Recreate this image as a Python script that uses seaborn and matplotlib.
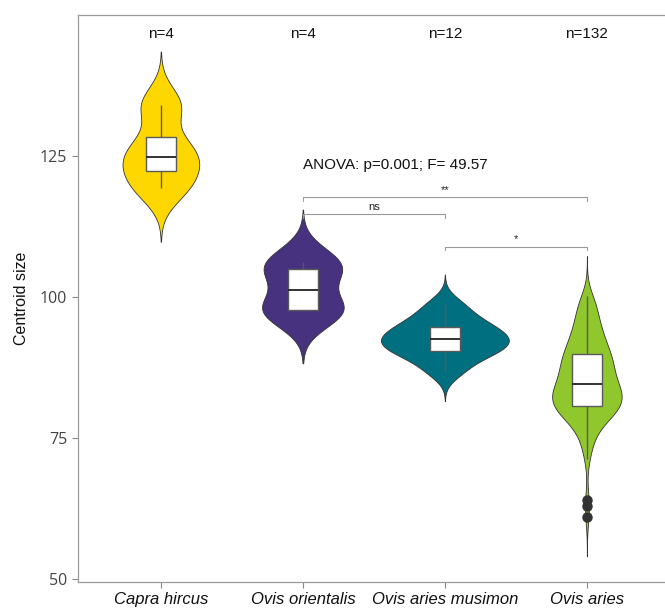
import numpy as np
import pandas as pd
import matplotlib
matplotlib.use("Agg")
import matplotlib.pyplot as plt
import seaborn as sns

species = ["Capra hircus", "Ovis orientalis", "Ovis aries musimon", "Ovis aries"]
colors = ["#FFD700", "#46327E", "#007080", "#8FC72C"]

capra_hircus = [119.2, 123.2, 126.5, 134.0]
ovis_orientalis = [97.5, 97.8, 104.6, 106.2]
ovis_musimon = [86.7, 88.8, 90.2, 90.6, 91.6, 92.2, 92.8, 93.6, 94.5, 95.3, 96.8, 98.8]
ovis_aries = [
    61.1, 62.9, 64.0, 71.3,
    72.4, 73.5, 74.3, 75.0, 75.6, 76.1, 76.6, 77.0, 77.4, 77.7,
    78.0, 78.3, 78.5, 78.7, 78.9, 79.1, 79.3, 79.4, 79.6, 79.7,
    79.8, 79.9, 80.0, 80.1, 80.2, 80.3, 80.4, 80.5, 80.6,
    80.7, 80.8, 80.9, 81.0, 81.2, 81.3, 81.4, 81.5, 81.7, 81.8,
    81.9, 82.0, 82.2, 82.3, 82.4, 82.5, 82.7, 82.8, 82.9, 83.0,
    83.1, 83.2, 83.3, 83.4, 83.5, 83.6, 83.7, 83.8, 83.9, 84.0,
    84.2, 84.3, 84.5,
    84.7, 84.9, 85.0, 85.2, 85.4, 85.5, 85.7, 85.9, 86.0, 86.2,
    86.4, 86.6, 86.8, 87.0, 87.2, 87.3, 87.5, 87.6, 87.8, 88.0,
    88.1, 88.3, 88.4, 88.6, 88.7, 88.9, 89.0, 89.2, 89.3, 89.5,
    89.6, 89.8, 89.9,
    90.0, 90.3, 90.6, 90.9, 91.0, 91.2, 91.5, 91.8, 92.0, 92.1,
    92.4, 92.7, 93.0, 93.3, 93.5, 93.6, 93.9, 94.2, 94.5, 94.9,
    95.3, 95.7, 96.1, 96.5, 96.9, 97.3, 97.7, 98.1, 98.5, 98.9,
    99.3, 99.6, 100.2,
]

# significance brackets: (group a, group b, label, height)
sig_pairs = [(1, 3), (1, 2), (2, 3)]
sig_labels = ["**", "ns", "*"]
sig_heights = [117.6, 114.6, 108.9]
anova_text = "ANOVA: p=0.001; F= 49.57"

groups = [capra_hircus, ovis_orientalis, ovis_musimon, ovis_aries]
df = pd.DataFrame({
    "species": np.repeat(species, [len(g) for g in groups]),
    "size": np.concatenate(groups),
})


def nrd0_factor(kde):
    # R's default bandwidth (bw.nrd0), returned as a factor for gaussian_kde
    x = kde.dataset[0]
    sd = x.std(ddof=1)
    q75, q25 = np.percentile(x, [75, 25])
    h = 0.9 * min(sd, (q75 - q25) / 1.34) * len(x) ** -0.2
    return h / sd


sns.set_theme(style="ticks")
plt.rcParams["font.family"] = ["Liberation Sans", "DejaVu Sans"]

fig = plt.figure(figsize=(6.65, 6.09), dpi=100)
ax = fig.add_axes([0.117, 0.045, 0.883, 0.93])

sns.violinplot(data=df, x="species", y="size", hue="species", order=species,
               hue_order=species, palette=colors, cut=3, bw_method=nrd0_factor,
               density_norm="area", common_norm=True, width=0.9, inner=None,
               linewidth=0.6, linecolor="#333333", saturation=1, legend=False, ax=ax)

sns.boxplot(data=df, x="species", y="size", order=species, width=0.21,
            color="white", linewidth=1.0, linecolor="#5a5a5a", showcaps=False,
            saturation=1,
            flierprops=dict(marker="o", markerfacecolor="#333333",
                            markeredgecolor="#333333", markersize=6.5),
            medianprops=dict(color="#222222", linewidth=1.3), ax=ax)

for i, g in enumerate(groups):
    ax.text(i, 146.6, f"n={len(g)}", ha="center", va="center", fontsize=11, color="#111111")

ax.text(1.0, 123.3, anova_text, ha="left", va="center", fontsize=11, color="#111111")

for (a, b), lab, h in zip(sig_pairs, sig_labels, sig_heights):
    ax.plot([a, a, b, b], [h - 0.6, h, h, h - 0.6], color="#9a9a9a", lw=0.8)
    ax.text((a + b) / 2, h + 0.5, lab, ha="center", va="bottom", fontsize=8, color="#222222")

ax.set_xlim(-0.585, 3.55)
ax.set_ylim(49.6, 149.86)
ax.set_yticks([50, 75, 100, 125])
ax.set_xlabel("")
ax.set_ylabel("Centroid size", fontsize=11.5, color="#111111", labelpad=8)

for lbl in ax.get_xticklabels():
    lbl.set_fontstyle("italic")
    lbl.set_fontsize(12)
    lbl.set_color("#111111")
for lbl in ax.get_yticklabels():
    lbl.set_fontfamily(["Open Sans", "DejaVu Sans"])
    lbl.set_fontsize(11.5)
    lbl.set_color("#444444")

ax.tick_params(axis="both", color="#888888", length=4, width=0.8)
for side in ["left", "bottom", "top"]:
    ax.spines[side].set_color("#999999")
    ax.spines[side].set_linewidth(0.9)
ax.spines["right"].set_visible(False)

fig.savefig("out.png", dpi=100)
